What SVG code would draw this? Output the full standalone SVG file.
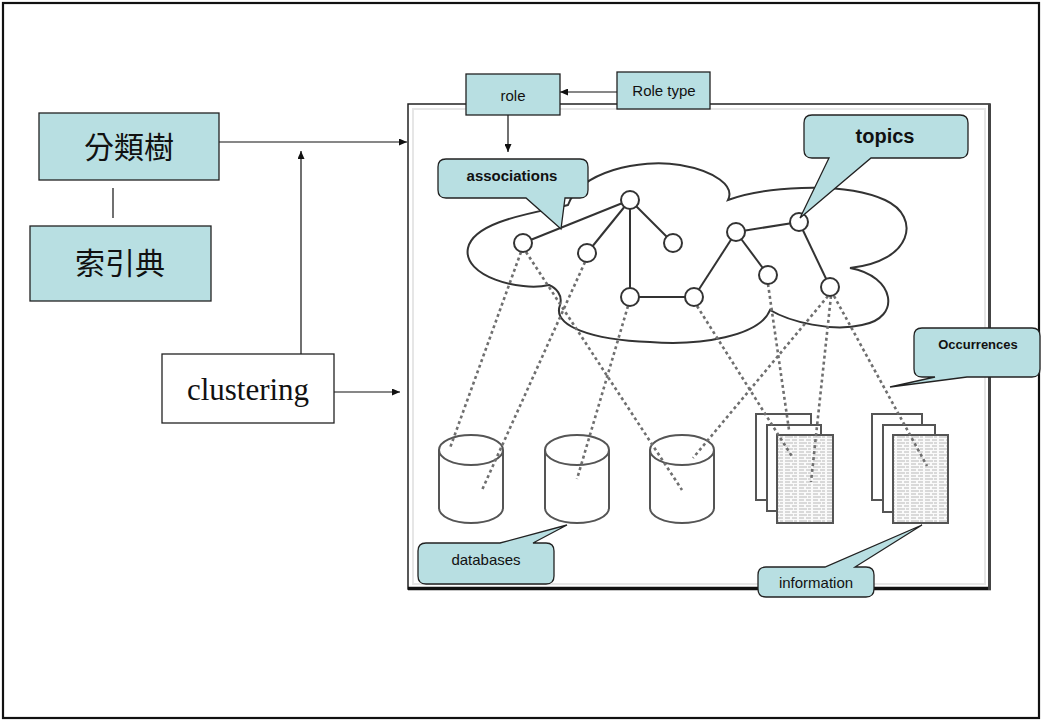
<svg xmlns="http://www.w3.org/2000/svg" width="1042" height="721" viewBox="0 0 1042 721">
<style>
.box{fill:#b8dfe2;stroke:#222;stroke-width:1.3}
.wbox{fill:#fff;stroke:#222;stroke-width:1.3}
.call{fill:#b8dfe2;stroke:#222;stroke-width:1.3}
.cjk{font-family:"Noto Sans CJK TC","Noto Sans CJK SC",sans-serif;font-size:30px;fill:#111}
.sans{font-family:"Liberation Sans",Arial,sans-serif;fill:#111}
.conn{stroke:#111;stroke-width:1.2;fill:none}
.edge{stroke:#333;stroke-width:2;fill:none}
.node{fill:#fff;stroke:#333;stroke-width:2}
.dash{stroke:#6f6f6f;stroke-width:2.6;stroke-dasharray:3 3;fill:none}
.cyl{fill:#fff;stroke:#555;stroke-width:2}
.page{fill:#fff;stroke:#555;stroke-width:2}
</style>
<defs>
<marker id="arr" markerUnits="userSpaceOnUse" markerWidth="8" markerHeight="7" refX="8" refY="3.5" orient="auto">
<path d="M0,0 L8,3.5 L0,7 z" fill="#111"/>
</marker>
<pattern id="txt" patternUnits="userSpaceOnUse" width="14" height="6">
<rect width="14" height="6" fill="#fafafa"/>
<path d="M1,2 H6 M8,2 H13 M1,5 H9 M10,5 H13" stroke="#cfcfcf" stroke-width="1.3"/>
</pattern>
</defs>
<rect x="0" y="0" width="1042" height="721" fill="#fff"/>
<rect x="3" y="3" width="1036" height="715" fill="none" stroke="#111" stroke-width="2.2"/>

<g id="frame">
<rect x="408" y="104" width="582" height="485" fill="#fff" stroke="#222" stroke-width="1.5"/>
<rect x="413" y="109" width="572" height="475" fill="none" stroke="#e6e6e6" stroke-width="2"/>
<line x1="408" y1="588.5" x2="991" y2="588.5" stroke="#111" stroke-width="3.5"/>
<line x1="989.5" y1="104" x2="989.5" y2="590" stroke="#444" stroke-width="3"/>
</g>

<g id="cloud">
<path class="edge" d="M549,285 C520,292 462,276 468,248 C474,220 540,212 568,205 C580,172 640,158 680,165 C715,171 735,186 728,200 C760,188 840,180 885,200 C922,217 912,262 850,268 C895,276 902,318 862,325 C832,332 790,322 770,310 C760,336 700,346 650,342 C592,340 552,326 560,305 C563,295 556,288 549,285 Z"/>
<line class="edge" x1="523" y1="243" x2="630" y2="200"/>
<line class="edge" x1="587" y1="253" x2="630" y2="200"/>
<line class="edge" x1="630" y1="200" x2="673" y2="243"/>
<line class="edge" x1="630" y1="200" x2="630" y2="297"/>
<line class="edge" x1="630" y1="297" x2="694" y2="297"/>
<line class="edge" x1="694" y1="297" x2="736" y2="232"/>
<line class="edge" x1="736" y1="232" x2="799" y2="222"/>
<line class="edge" x1="736" y1="232" x2="768" y2="275"/>
<line class="edge" x1="799" y1="222" x2="830" y2="287"/>
</g>

<g id="databases-store">
<path class="cyl" d="M439,450 V508 A32,15 0 0 0 503,508 V450"/>
<ellipse class="cyl" cx="471" cy="450" rx="32" ry="15"/>
<path class="cyl" d="M545,450 V508 A32,15 0 0 0 609,508 V450"/>
<ellipse class="cyl" cx="577" cy="450" rx="32" ry="15"/>
<path class="cyl" d="M650,450 V508 A32,15 0 0 0 714,508 V450"/>
<ellipse class="cyl" cx="682" cy="450" rx="32" ry="15"/>
</g>

<g id="documents">
<rect class="page" x="756" y="414" width="55" height="86"/>
<rect class="page" x="767" y="425" width="54" height="86"/>
<rect class="page" x="777" y="435" width="56" height="88" fill="url(#txt)" style="fill:url(#txt)"/>
<rect class="page" x="872" y="414" width="50" height="86"/>
<rect class="page" x="883" y="425" width="52" height="87"/>
<rect class="page" x="893" y="435" width="55" height="88" style="fill:url(#txt)"/>
</g>

<g id="occurrence-links">
<line class="dash" x1="521" y1="252" x2="450" y2="448"/>
<line class="dash" x1="526" y1="252" x2="682" y2="490"/>
<line class="dash" x1="585" y1="262" x2="482" y2="490"/>
<line class="dash" x1="628" y1="306" x2="577" y2="479"/>
<line class="dash" x1="697" y1="306" x2="793" y2="458"/>
<line class="dash" x1="768" y1="284" x2="789" y2="430"/>
<line class="dash" x1="828" y1="296" x2="693" y2="458"/>
<line class="dash" x1="831" y1="296" x2="811" y2="482"/>
<line class="dash" x1="834" y1="296" x2="927" y2="466"/>
</g>

<g id="topic-nodes">
<circle class="node" cx="523" cy="243" r="9"/>
<circle class="node" cx="587" cy="253" r="9"/>
<circle class="node" cx="630" cy="200" r="9"/>
<circle class="node" cx="673" cy="243" r="9"/>
<circle class="node" cx="630" cy="297" r="9"/>
<circle class="node" cx="694" cy="297" r="9"/>
<circle class="node" cx="736" cy="232" r="9"/>
<circle class="node" cx="799" cy="222" r="9"/>
<circle class="node" cx="768" cy="275" r="9"/>
<circle class="node" cx="830" cy="287" r="9"/>
</g>

<g id="connectors">
<line class="conn" x1="219" y1="142" x2="407" y2="142" marker-end="url(#arr)"/>
<line class="conn" x1="301" y1="354" x2="301" y2="151" marker-end="url(#arr)"/>
<line class="conn" x1="334" y1="392" x2="400" y2="392" marker-end="url(#arr)"/>
<line class="conn" x1="113" y1="188" x2="113" y2="218"/>
<line class="conn" x1="617" y1="92" x2="560" y2="92" marker-end="url(#arr)"/>
<line class="conn" x1="508" y1="115" x2="508" y2="152" marker-end="url(#arr)"/>
</g>

<g id="taxonomy">
<rect class="box" x="39" y="113" width="180" height="67"/>
<text class="cjk" x="129" y="158" text-anchor="middle">分類樹</text>
</g>
<g id="thesaurus">
<rect class="box" x="30" y="226" width="181" height="75"/>
<text class="cjk" x="120" y="274" text-anchor="middle">索引典</text>
</g>
<g id="clustering">
<rect class="wbox" x="162" y="354" width="172" height="69"/>
<text x="248" y="400" text-anchor="middle" font-family="'Liberation Serif','Times New Roman',serif" font-size="31" fill="#111">clustering</text>
</g>
<g id="role">
<rect class="box" x="466" y="74" width="94" height="41"/>
<text class="sans" x="513" y="101" text-anchor="middle" font-size="15">role</text>
</g>
<g id="role-type">
<rect class="box" x="617" y="72" width="93" height="37"/>
<text class="sans" x="664" y="96" text-anchor="middle" font-size="15">Role type</text>
</g>

<g id="associations">
<path class="call" d="M446,159 H580 Q588,159 588,167 V190 Q588,198 580,198 H565 L561,229 L526,198 H446 Q438,198 438,190 V167 Q438,159 446,159 Z"/>
<text class="sans" x="512" y="181" text-anchor="middle" font-size="15" font-weight="bold">associations</text>
</g>
<g id="topics">
<path class="call" d="M812,115 H960 Q968,115 968,123 V150 Q968,158 960,158 H871 L800,218 L829,158 H812 Q804,158 804,150 V123 Q804,115 812,115 Z"/>
<text class="sans" x="885" y="143" text-anchor="middle" font-size="20" font-weight="bold">topics</text>
</g>
<g id="occurrences">
<path class="call" d="M922,328 H1032 Q1040,328 1040,336 V369 Q1040,377 1032,377 H967 L890,387 L935,377 H922 Q914,377 914,369 V336 Q914,328 922,328 Z"/>
<text class="sans" x="978" y="349" text-anchor="middle" font-size="13" font-weight="bold">Occurrences</text>
</g>
<g id="databases">
<path class="call" d="M426,543 H500 L567,525 L533,543 H546 Q554,543 554,551 V576 Q554,584 546,584 H426 Q418,584 418,576 V551 Q418,543 426,543 Z"/>
<text class="sans" x="486" y="565" text-anchor="middle" font-size="15">databases</text>
</g>
<g id="information">
<path class="call" d="M766,567 H825 L922,525 L855,567 H866 Q874,567 874,575 V589 Q874,597 866,597 H766 Q758,597 758,589 V575 Q758,567 766,567 Z"/>
<text class="sans" x="816" y="588" text-anchor="middle" font-size="15">information</text>
</g>
</svg>
